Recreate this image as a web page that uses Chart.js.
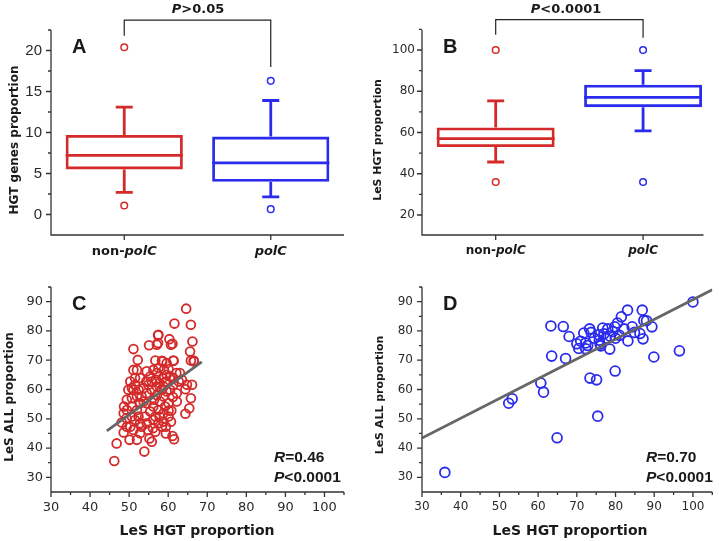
<!DOCTYPE html>
<html><head><meta charset="utf-8">
<script src="https://cdn.jsdelivr.net/npm/chart.js@4.4.1/dist/chart.umd.min.js"></script>
<style>
html,body{margin:0;padding:0;background:#fff;}
#wrap{position:relative;width:719px;height:541px;overflow:hidden;background:#fff;}
canvas{position:absolute;}
</style></head><body>
<div id="wrap">
<canvas id="cA" width="360" height="270" style="left:0px;top:0px;width:360px;height:270px"></canvas>
<canvas id="cB" width="359" height="270" style="left:360px;top:0px;width:359px;height:270px"></canvas>
<canvas id="cC" width="360" height="271" style="left:0px;top:270px;width:360px;height:271px"></canvas>
<canvas id="cD" width="359" height="271" style="left:360px;top:270px;width:359px;height:271px"></canvas>
</div>
<script>
// ---------- data ----------
const categories = ['non-polC', 'polC'];

// Panel A: HGT genes proportion (box plot)
const hgtLowWhisker  = [2.7, 2.15];
const hgtQ1          = [5.5, 4.0];
const hgtMedian      = [7.2, 6.3];
const hgtQ3          = [9.7, 9.5];
const hgtHighWhisker = [13.1, 13.9];
const hgtOutliersNon = [20.4, 1.1];
const hgtOutliersPol = [16.3, 0.65];
const ticksA = [0, 5, 10, 15, 20];
const minorA = [2.5, 7.5, 12.5, 17.5, 22.5];

// Panel B: LeS HGT proportion (box plot)
const lesLowWhisker  = [45.7, 60.8];
const lesQ1          = [53.0, 72.3];
const lesMedian      = [57.0, 77.0];
const lesQ3          = [62.4, 83.2];
const lesHighWhisker = [75.3, 90.0];
const lesOutliersNon = [100, 36];
const lesOutliersPol = [100, 36];
const ticksB = [20, 40, 60, 80, 100];
const minorB = [30, 50, 70, 90, 110];

// Panel C: non-polC scatter
const cHgt = [64.6,61.6,65.8,51.1,55.1,57.4,57.1,60.3,60.7,66.2,65.6,52.2,56.7,58.5,61.3,65.8,66.6,51.1,50.3,51.5,52.8,54.4,56.2,56.9,58.9,59.5,60.5,62.1,62.7,64.8,66.1,65.8,65.4,64.4,49.8,49.4,48.7,48.6,48.1,48.6,46.8,46.2,50.1,52.0,53.9,55.2,55.8,59.4,59.4,61.1,61.5,60.1,60.8,56.1,56.7,52.8,51.1,50.3,52.8,54.5,58.8,55.4,57.9,57.1,53.2,54.5,55.8,59.6,62.2,62.2,64.4,52.0,50.7,52.4,51.5,54.1,56.2,57.8,57.5,54.5,56.2,60.1,61.2,58.8,57.8,59.6,63.5,61.3,58.6,55.4,53.7,52.0,50.7,49.4,50.7,49.3,49.4,53.2,54.9,56.7,57.5,59.2,60.5,58.8,56.4,54.9,52.4,51.1,52.8,60.1,60.7,58.8,58.4,57.1,54.5,57.5,59.6,60.1,55.8,61.3,63.0,51.5,52.0,50.7,53.7,57.1,58.4,57.5,57.4,61.1,66.5,61.4,58.4];
const cAll = [87.6,82.5,82.1,73.8,75.1,78.5,75.3,77.2,75.3,76.4,73.0,70.1,69.9,69.6,69.9,69.9,69.6,66.7,62.7,61.6,63.9,62.7,66.7,63.3,66.7,62.7,64.4,65.6,62.7,61.6,61.6,57.0,53.6,51.7,59.9,56.5,54.2,51.9,48.7,45.3,41.6,35.6,42.8,42.8,38.8,43.3,42.2,45.0,47.3,44.1,43.0,52.8,52.8,46.8,45.6,45.1,46.2,47.3,48.5,48.5,51.9,52.5,55.9,61.0,57.6,58.7,59.9,59.3,58.7,55.9,60.1,53.0,54.2,50.8,49.6,50.8,49.6,50.8,48.5,55.3,54.2,55.3,57.4,57.6,62.2,65.0,63.3,61.6,63.9,64.4,60.5,57.6,57.0,53.0,50.8,50.2,47.3,47.3,46.2,50.8,53.0,54.2,59.9,61.0,56.5,61.6,59.9,59.9,55.3,50.8,49.0,49.0,47.3,65.6,66.2,67.3,69.0,66.9,62.7,63.9,65.6,63.9,66.7,60.5,55.9,58.0,59.9,78.7,75.9,75.6,69.9,69.8,69.8];
const fitCx = [44.3, 68.6];
const fitCy = [45.9, 69.4];

// Panel D: polC scatter
const dHgt = [35.9,52.4,53.3,60.7,61.4,63.3,63.5,64.9,66.5,67.1,68.0,70.0,70.5,71.8,72.3,72.3,72.8,73.3,73.7,73.4,75.1,75.4,75.6,75.8,76.2,76.7,77.5,78.0,78.5,78.6,79.3,79.9,80.0,79.8,80.5,81.5,82.2,83.1,83.2,84.3,84.9,86.3,86.9,87.1,87.3,88.0,89.4,89.9,96.5,100.0,74.5,77.0,81.0,71.0,76.0];
const dAll = [31.7,55.3,56.8,62.2,59.1,81.7,71.4,43.5,81.5,70.6,78.1,75.6,74.0,79.3,75.9,73.9,75.0,80.7,79.5,63.9,63.3,50.9,78.7,76.8,74.9,81.0,77.5,80.7,73.8,78.2,79.8,66.3,77.5,81.4,82.7,84.8,80.7,87.1,76.6,81.4,79.5,79.1,87.1,77.3,83.6,83.5,81.4,71.1,73.2,89.9,77.5,79.0,78.5,76.5,75.5];
const fitDx = [30, 105];
const fitDy = [43.4, 94.1];

const ticksXY = [30, 40, 50, 60, 70, 80, 90];
const minorXY = [35, 45, 55, 65, 75, 85, 95];
const ticksX = [30, 40, 50, 60, 70, 80, 90, 100];
const minorX = [35, 45, 55, 65, 75, 85, 95, 105];

// ---------- styles ----------
const RED = '#d42a2a', BLUE = '#2b2bee', AXIS = '#333333', TXT = '#1a1a1a';
const DV = '"DejaVu Sans", Verdana, sans-serif';
const AR = '"Liberation Sans", Arial, sans-serif';

function rich(ctx, parts, x, y, align, size, family) {
  const fonts = parts.map(p => (p[1] ? 'italic ' : '') + 'bold ' + size + 'px ' + family);
  const widths = parts.map((p, i) => { ctx.font = fonts[i]; return ctx.measureText(p[0]).width; });
  const total = widths.reduce((a, b) => a + b, 0);
  let sx = align === 'center' ? x - total / 2 : (align === 'right' ? x - total : x);
  ctx.textAlign = 'left'; ctx.textBaseline = 'alphabetic'; ctx.fillStyle = TXT;
  parts.forEach((p, i) => { ctx.font = fonts[i]; ctx.fillText(p[0], sx, y); sx += widths[i]; });
}
function vtitle(ctx, text, cx, cy, size) {
  ctx.save(); ctx.translate(cx, cy); ctx.rotate(-Math.PI / 2);
  ctx.textAlign = 'center'; ctx.textBaseline = 'middle'; ctx.fillStyle = TXT;
  ctx.font = 'bold ' + size + 'px ' + DV; ctx.fillText(text, 0, 0); ctx.restore();
}
function frame(chart, t) {
  const {ctx, chartArea: {left, right, top, bottom}, scales: {x, y}} = chart;
  ctx.save(); ctx.strokeStyle = AXIS; ctx.lineWidth = 1.3;
  ctx.beginPath();
  ctx.moveTo(left, top); ctx.lineTo(left, bottom); ctx.lineTo(right, bottom);
  const seg = (a, b, c, d) => { ctx.moveTo(a, b); ctx.lineTo(c, d); };
  t.yMajor.forEach(v => { const p = y.getPixelForValue(v); seg(left - 5, p, left, p); });
  t.yMinor.forEach(v => { const p = y.getPixelForValue(v); seg(left - 3, p, left, p); });
  t.xMajor.forEach(v => { const p = x.getPixelForValue(v); seg(p, bottom, p, bottom + 5); });
  t.xMinor.forEach(v => { const p = x.getPixelForValue(v); seg(p, bottom, p, bottom + 3); });
  ctx.stroke(); ctx.restore();
}
const base = {
  responsive: false, animation: false, events: [],
  plugins: {legend: {display: false}, tooltip: {enabled: false}}
};

// ---------- box plot panels ----------
function boxChart(id, s, o) {
  new Chart(document.getElementById(id), {
    type: 'bar',
    data: {datasets: [
      {type: 'bar', data: categories.map((c, i) => ({x: i, y: [s.q1[i], s.q3[i]]})),
       backgroundColor: 'rgba(0,0,0,0)', borderColor: [RED, BLUE], borderWidth: 2.8,
       borderSkipped: false, barPercentage: 0.8, categoryPercentage: 1, order: 2},
      {type: 'scatter', data: s.outNon.map(v => ({x: 0, y: v})), pointRadius: 3.3,
       borderColor: RED, backgroundColor: '#fff', borderWidth: 1.5, order: 1},
      {type: 'scatter', data: s.outPol.map(v => ({x: 1, y: v})), pointRadius: 3.3,
       borderColor: BLUE, backgroundColor: '#fff', borderWidth: 1.5, order: 1}
    ]},
    options: Object.assign({}, base, {
      layout: {padding: {top: o.top, right: o.right, left: 0, bottom: 0}},
      scales: {
        x: {type: 'linear', min: -0.5, max: o.xmax, offset: false, bounds: 'ticks',
            grid: {display: false, drawTicks: false, offset: false},
            border: {display: false}, ticks: {display: false},
            afterBuildTicks: sc => { sc.ticks = categories.map((c, i) => ({value: i})); },
            afterFit: sc => { sc.height = o.xh; }},
        y: {type: 'linear', min: o.ymin, max: o.ymax, grid: {display: false, drawTicks: false},
            border: {display: false},
            ticks: {font: o.tickFont, color: '#2a2a2a', padding: o.tpad},
            afterBuildTicks: sc => { sc.ticks = o.yTicks.map(v => ({value: v})); },
            afterFit: sc => { sc.width = o.yw; }}
      }
    }),
    plugins: [{
      id: 'box' + id,
      afterDatasetsDraw(chart) {
        const {ctx, scales: {x, y}} = chart;
        ctx.save(); ctx.lineWidth = 2.8; ctx.lineCap = 'butt';
        categories.forEach((c, i) => {
          const cx = x.getPixelForValue(i);
          const hw = x.getPixelForValue(i + 0.4) - cx;
          ctx.strokeStyle = i === 0 ? RED : BLUE;
          ctx.beginPath();
          ctx.moveTo(cx - hw, y.getPixelForValue(s.med[i])); ctx.lineTo(cx + hw, y.getPixelForValue(s.med[i]));
          ctx.moveTo(cx, y.getPixelForValue(s.q3[i])); ctx.lineTo(cx, y.getPixelForValue(s.hi[i]));
          ctx.moveTo(cx - 8.5, y.getPixelForValue(s.hi[i])); ctx.lineTo(cx + 8.5, y.getPixelForValue(s.hi[i]));
          ctx.moveTo(cx, y.getPixelForValue(s.q1[i])); ctx.lineTo(cx, y.getPixelForValue(s.lo[i]));
          ctx.moveTo(cx - 8.5, y.getPixelForValue(s.lo[i])); ctx.lineTo(cx + 8.5, y.getPixelForValue(s.lo[i]));
          ctx.stroke();
        });
        ctx.restore();
      },
      afterDraw(chart) {
        const {ctx, scales: {x, y}} = chart;
        frame(chart, {yMajor: o.yTicks, yMinor: o.yMinor, xMajor: [0, 1], xMinor: []});
        // bracket
        const x0 = x.getPixelForValue(0), x1 = x.getPixelForValue(1);
        ctx.save(); ctx.strokeStyle = '#222'; ctx.lineWidth = 1.2;
        ctx.beginPath();
        ctx.moveTo(x0, y.getPixelForValue(o.br[1])); ctx.lineTo(x0, y.getPixelForValue(o.br[0]));
        ctx.lineTo(x1, y.getPixelForValue(o.br[0])); ctx.lineTo(x1, y.getPixelForValue(o.br[2]));
        ctx.stroke(); ctx.restore();
        rich(ctx, o.sig, o.sigX, 13, 'center', 13, DV);
        rich(ctx, [[o.letter, false]], o.letterX, 53, 'left', 20, AR);
        vtitle(ctx, o.ytitle, o.ytx, 140, o.yts);
        rich(ctx, [['non-', false], ['polC', true]], x0, o.lblY, 'center', o.lblS, DV);
        rich(ctx, [['polC', true]], x1, o.lblY, 'center', o.lblS, DV);
      }
    }]
  });
}

boxChart('cA', {lo: hgtLowWhisker, q1: hgtQ1, med: hgtMedian, q3: hgtQ3, hi: hgtHighWhisker,
                outNon: hgtOutliersNon, outPol: hgtOutliersPol},
  {top: 30, right: 16, xh: 35, yw: 51, xmax: 1.5, ymin: -2.5, ymax: 22.5,
   yTicks: ticksA, yMinor: minorA, tickFont: {family: AR, size: 15}, tpad: 9,
   br: [23.7, 21.8, 18.0], sig: [['P', true], ['>0.05', false]], sigX: 198,
   letter: 'A', letterX: 72, ytitle: 'HGT genes proportion', ytx: 15, yts: 12,
   lblY: 255, lblS: 13});

boxChart('cB', {lo: lesLowWhisker, q1: lesQ1, med: lesMedian, q3: lesQ3, hi: lesHighWhisker,
                outNon: lesOutliersNon, outPol: lesOutliersPol},
  {top: 30, right: 15.5, xh: 35, yw: 62, xmax: 1.41, ymin: 10.3, ymax: 109.7,
   yTicks: ticksB, yMinor: minorB, tickFont: {family: DV, size: 12}, tpad: 7,
   br: [114.7, 107.4, 105.9], sig: [['P', true], ['<0.0001', false]], sigX: 206,
   letter: 'B', letterX: 83, ytitle: 'LeS HGT proportion', ytx: 18, yts: 11,
   lblY: 254, lblS: 12});

// ---------- scatter panels ----------
function scatterChart(id, xs, ys, fx, fy, color, r, o) {
  new Chart(document.getElementById(id), {
    type: 'scatter',
    data: {datasets: [
      {type: 'line', data: fx.map((v, i) => ({x: v, y: fy[i]})), borderColor: '#666666',
       borderWidth: 2.8, pointRadius: 0, fill: false, order: 0},
      {type: 'scatter', data: xs.map((v, i) => ({x: v, y: ys[i]})), pointRadius: r,
       borderColor: color, backgroundColor: 'rgba(255,255,255,0)', borderWidth: 1.8, order: 1}
    ]},
    options: Object.assign({}, base, {
      layout: {padding: {top: 17, right: o.right, left: 0, bottom: 0}},
      scales: {
        x: {type: 'linear', min: 30, max: 105, grid: {display: false, drawTicks: false},
            border: {display: false}, ticks: {font: {family: DV, size: o.ts}, color: '#2a2a2a', padding: 8, maxRotation: 0},
            afterBuildTicks: sc => { sc.ticks = ticksX.map(v => ({value: v})); },
            afterFit: sc => { sc.height = 49; }},
        y: {type: 'linear', min: 25, max: 95, grid: {display: false, drawTicks: false},
            border: {display: false}, ticks: {font: {family: DV, size: o.ts}, color: '#2a2a2a', padding: o.tpad},
            afterBuildTicks: sc => { sc.ticks = ticksXY.map(v => ({value: v})); },
            afterFit: sc => { sc.width = o.yw; }}
      }
    }),
    plugins: [{
      id: 'sc' + id,
      afterDraw(chart) {
        const {ctx} = chart;
        frame(chart, {yMajor: ticksXY, yMinor: minorXY, xMajor: ticksX, xMinor: minorX});
        rich(ctx, [[o.letter, false]], o.letterX, 40, 'left', 20, AR);
        vtitle(ctx, 'LeS ALL proportion', o.ytx, o.yty, o.yts);
        rich(ctx, [['LeS HGT proportion', false]], o.xtx, 265, 'center', 14, DV);
        rich(ctx, [['R', true], ['=' + o.r, false]], o.rx, 192, 'left', 15.5, AR);
        rich(ctx, [['P', true], ['<0.0001', false]], o.rx, 212, 'left', 15.5, AR);
      }
    }]
  });
}

scatterChart('cC', cHgt, cAll, fitCx, fitCy, RED, 4.4,
  {right: 16, yw: 51, ts: 13, tpad: 8, letter: 'C', letterX: 72, ytx: 10, yty: 127, yts: 12,
   xtx: 197, r: '0.46', rx: 274});
scatterChart('cD', dHgt, dAll, fitDx, fitDy, BLUE, 4.9,
  {right: 2.6, yw: 62, ts: 12, tpad: 9, letter: 'D', letterX: 83, ytx: 20, yty: 125, yts: 11,
   xtx: 210, r: '0.70', rx: 286});
</script>
</body></html>
